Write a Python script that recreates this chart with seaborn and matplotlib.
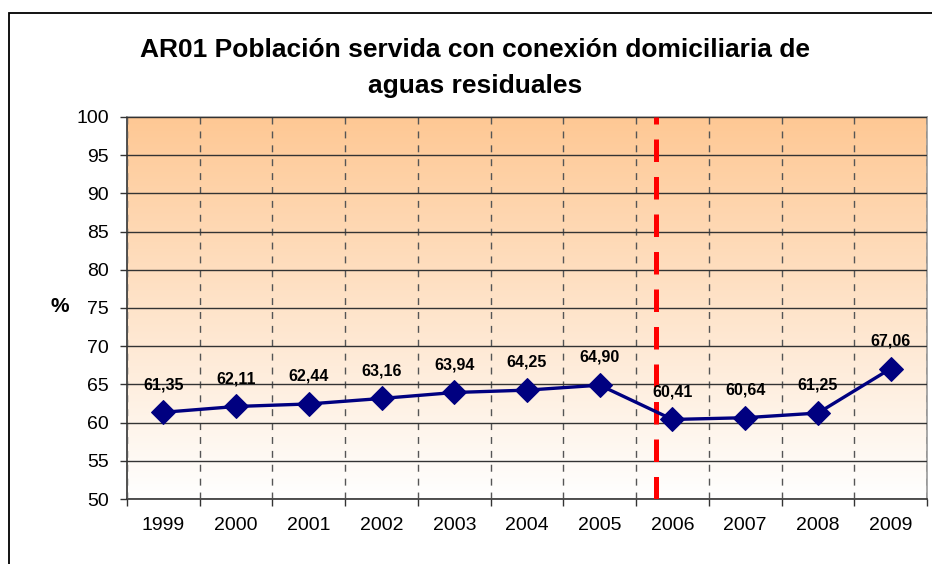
import numpy as np
import pandas as pd
import matplotlib
matplotlib.use("Agg")
import matplotlib.pyplot as plt
import seaborn as sns
from matplotlib.patches import Rectangle

years = ["1999", "2000", "2001", "2002", "2003", "2004", "2005", "2006", "2007", "2008", "2009"]
values = [61.35, 62.11, 62.44, 63.16, 63.94, 64.25, 64.90, 60.41, 60.64, 61.25, 67.06]
labels = ["61,35", "62,11", "62,44", "63,16", "63,94", "64,25", "64,90", "60,41", "60,64", "61,25", "67,06"]
yticks = [50, 55, 60, 65, 70, 75, 80, 85, 90, 95, 100]
title = "AR01 Población servida con conexión domiciliaria de\naguas residuales"
break_pos = 6.77  # red dashed marker between 2005 and 2006

sns.set_style("white")
plt.rcParams['font.family'] = ['Liberation Sans', 'DejaVu Sans']
plt.rcParams['text.color'] = 'black'
plt.rcParams['xtick.color'] = 'black'
plt.rcParams['ytick.color'] = 'black'
plt.rcParams['axes.labelcolor'] = 'black'

W, H = 932, 564
fig = plt.figure(figsize=(W / 100, H / 100), dpi=100)
ax = fig.add_axes([127 / W, 1 - 499 / H, 800 / W, 382 / H])

df = pd.DataFrame({"x": np.arange(len(years)), "y": values})

# gradient background
grad = np.linspace(0, 1, 256).reshape(-1, 1)
top = np.array([254, 200, 148]) / 255
bot = np.array([255, 255, 255]) / 255
img = top[None, None, :] * (1 - grad[:, :, None]) + bot[None, None, :] * grad[:, :, None]
ax.imshow(img, extent=[-0.5, 10.5, 50, 100], aspect='auto', zorder=0, origin='upper')

sns.lineplot(data=df, x="x", y="y", ax=ax, color="#000080", linewidth=2.4,
             marker="D", markersize=12, markeredgecolor="#000080", zorder=5)

ax.set_xlim(-0.5, 10.5)
ax.set_ylim(50, 100)
ax.set_yticks(yticks)
ax.set_yticklabels([str(v) for v in yticks], fontsize=14)
ax.set_xticks(np.arange(len(years)))
ax.set_xticklabels(years, fontsize=14)
ax.set_xticks(np.arange(-0.5, 11, 1), minor=True)
ax.tick_params(axis='x', which='major', length=0, pad=13)
ax.tick_params(axis='x', which='minor', length=5, width=1, color='#333333', direction='out', bottom=True)
ax.tick_params(axis='y', which='major', length=5, width=1, color='#333333', direction='out', left=True, pad=8)

ax.yaxis.grid(True, color='#333333', linewidth=1, zorder=1)
ax.xaxis.grid(True, which='minor', color='#555555', linewidth=1, linestyle=(0, (5, 5)), zorder=1)
ax.xaxis.grid(False, which='major')
ax.set_axisbelow(False)

for s in ['top', 'right']:
    ax.spines[s].set_color('#999999')
    ax.spines[s].set_linewidth(1.2)
for s in ['left', 'bottom']:
    ax.spines[s].set_color('#333333')
    ax.spines[s].set_linewidth(1.2)

ax.axvline(break_pos, color='#FF0000', linewidth=3.6, linestyle=(0, (4.5, 3)), zorder=4)

for i, (v, t) in enumerate(zip(values, labels)):
    ax.annotate(t, (i, v), xytext=(0, 20), textcoords='offset points',
                ha='center', va='center', fontsize=11.5, fontweight='bold',
                color='black', zorder=6)

ax.set_xlabel("")
ax.set_ylabel("%", rotation=0, fontsize=15, fontweight='bold', ha='center', va='center')
ax.yaxis.set_label_coords((60 - 127) / 800, (499 - 307) / 382)

fig.text(475 / W, 1 - 68 / H, title, ha='center', va='center', fontsize=19,
         fontweight='bold', linespacing=1.62, color='black')

fig.patches.append(Rectangle((9 / W, -0.1), 1.2, 1 - 13 / H + 0.1, transform=fig.transFigure,
                             fill=False, edgecolor='black', linewidth=1.3))

fig.savefig("out.png", dpi=100)
